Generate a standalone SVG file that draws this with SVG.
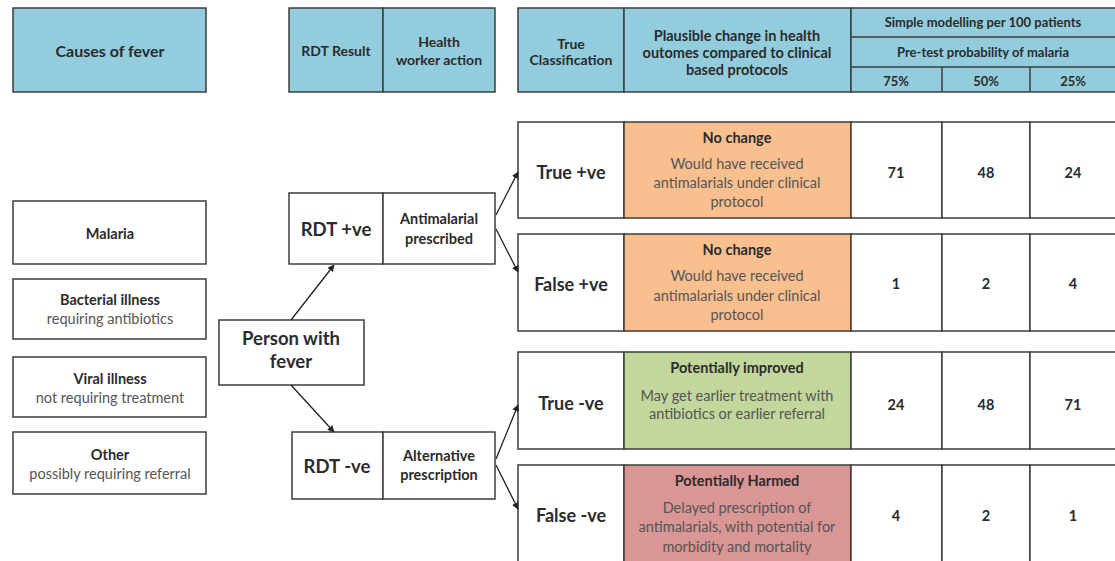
<svg xmlns="http://www.w3.org/2000/svg" width="1115" height="561" viewBox="0 0 1115 561">
<style>
text{font-family:Lato,"Open Sans",sans-serif;fill:#2b2b2b;text-anchor:middle;dominant-baseline:central}
.b{font-weight:bold}
.n{fill:#555}
.box{stroke:#3c3c3c;stroke-width:1.5;fill:#fff}
.hd{fill:#93cddd;stroke:#3c3c3c;stroke-width:1.5}
.ln{stroke:#3c3c3c;stroke-width:1.5;fill:none}
.or{fill:#f9bf8f}
.gr{fill:#c3d69b}
.rd{fill:#d99694}
.h15{font-size:16px}
.h14{font-size:14px}
.h13{font-size:14.5px}
.h12{font-size:13px}
.h17{font-size:18.5px}
.h18{font-size:18px}
.c{stroke:#222;stroke-width:1.3;fill:none;marker-end:url(#ah)}
</style>
<defs>
<marker id="ah" viewBox="0 0 10 10" refX="9" refY="5" markerWidth="7" markerHeight="7" orient="auto" markerUnits="userSpaceOnUse">
<path d="M0,0 L10,5 L0,10 z" fill="#222"/>
</marker>
</defs>
<rect width="1115" height="561" fill="#fff"/>

<g id="hdr-causes">
<rect class="hd" x="13" y="8" width="193" height="84"/>
<text class="b h15" x="110" y="50">Causes of fever</text>
</g>
<g id="hdr-rdt">
<rect class="hd" x="289" y="8" width="94" height="84"/>
<rect class="hd" x="383" y="8" width="112" height="84"/>
<text class="b h14" x="336" y="50">RDT Result</text>
<text class="b h14" x="439" y="41">Health</text>
<text class="b h14" x="439" y="59">worker action</text>
</g>
<g id="hdr-table">
<rect class="hd" x="518" y="8" width="106" height="84"/>
<rect class="hd" x="624" y="8" width="227" height="84"/>
<rect class="hd" x="851" y="8" width="266" height="84"/>
<line class="ln" x1="851" y1="37" x2="1115" y2="37"/>
<line class="ln" x1="851" y1="67" x2="1115" y2="67"/>
<line class="ln" x1="942" y1="67" x2="942" y2="92"/>
<line class="ln" x1="1030" y1="67" x2="1030" y2="92"/>
<text class="b h14" x="571" y="43">True</text>
<text class="b h14" x="571" y="59">Classification</text>
<text class="b h13" x="737" y="35">Plausible change in health</text>
<text class="b h13" x="737" y="52">outomes compared to clinical</text>
<text class="b h13" x="737" y="69">based protocols</text>
<text class="b h12" x="983" y="22">Simple modelling per 100 patients</text>
<text class="b h12" x="983" y="52">Pre-test probability of malaria</text>
<text class="b h12" x="896" y="81">75%</text>
<text class="b h12" x="986" y="81">50%</text>
<text class="b h12" x="1073" y="81">25%</text>
</g>

<g id="cause-malaria">
<rect class="box" x="13" y="201" width="193" height="63"/>
<text class="b h13" x="110" y="233">Malaria</text>
</g>
<g id="cause-bacterial">
<rect class="box" x="13" y="279" width="193" height="60"/>
<text class="b h13" x="110" y="299">Bacterial illness</text>
<text class="n h13" x="110" y="318">requiring antibiotics</text>
</g>
<g id="cause-viral">
<rect class="box" x="13" y="357" width="193" height="60"/>
<text class="b h13" x="110" y="378">Viral illness</text>
<text class="n h13" x="110" y="397">not requiring treatment</text>
</g>
<g id="cause-other">
<rect class="box" x="13" y="432" width="193" height="62"/>
<text class="b h13" x="110" y="454">Other</text>
<text class="n h13" x="110" y="473">possibly requiring referral</text>
</g>

<g id="person">
<rect class="box" x="219" y="320" width="145" height="65"/>
<text class="b h17" x="291" y="338">Person with</text>
<text class="b h17" x="291" y="361">fever</text>
</g>

<g id="rdt-pos">
<rect class="box" x="289" y="193" width="94" height="71"/>
<rect class="box" x="383" y="193" width="112" height="71"/>
<text class="b h17" x="336" y="229">RDT +ve</text>
<text class="b h13" x="439" y="218">Antimalarial</text>
<text class="b h13" x="439" y="238">prescribed</text>
</g>
<g id="rdt-neg">
<rect class="box" x="292" y="432" width="91" height="67"/>
<rect class="box" x="383" y="432" width="112" height="67"/>
<text class="b h17" x="337" y="466">RDT -ve</text>
<text class="b h13" x="439" y="455">Alternative</text>
<text class="b h13" x="439" y="474">prescription</text>
</g>

<g id="row-true-pos">
<rect class="box" x="518" y="122" width="106" height="96"/>
<rect class="box or" x="624" y="122" width="227" height="96"/>
<rect class="box" x="851" y="122" width="91" height="96"/>
<rect class="box" x="942" y="122" width="88" height="96"/>
<rect class="box" x="1030" y="122" width="87" height="96"/>
<text class="b h18" x="571" y="172">True +ve</text>
<text class="b h13" x="737" y="137">No change</text>
<text class="n h13" x="737" y="163">Would have received</text>
<text class="n h13" x="737" y="182">antimalarials under clinical</text>
<text class="n h13" x="737" y="201">protocol</text>
<text class="b h13" x="896" y="172">71</text>
<text class="b h13" x="986" y="172">48</text>
<text class="b h13" x="1073" y="172">24</text>
</g>
<g id="row-false-pos">
<rect class="box" x="518" y="234" width="106" height="97"/>
<rect class="box or" x="624" y="234" width="227" height="97"/>
<rect class="box" x="851" y="234" width="91" height="97"/>
<rect class="box" x="942" y="234" width="88" height="97"/>
<rect class="box" x="1030" y="234" width="87" height="97"/>
<text class="b h18" x="571" y="284">False +ve</text>
<text class="b h13" x="737" y="249">No change</text>
<text class="n h13" x="737" y="275">Would have received</text>
<text class="n h13" x="737" y="295">antimalarials under clinical</text>
<text class="n h13" x="737" y="314">protocol</text>
<text class="b h13" x="896" y="283">1</text>
<text class="b h13" x="986" y="283">2</text>
<text class="b h13" x="1073" y="283">4</text>
</g>
<g id="row-true-neg">
<rect class="box" x="518" y="352" width="106" height="97"/>
<rect class="box gr" x="624" y="352" width="227" height="97"/>
<rect class="box" x="851" y="352" width="91" height="97"/>
<rect class="box" x="942" y="352" width="88" height="97"/>
<rect class="box" x="1030" y="352" width="87" height="97"/>
<text class="b h18" x="571" y="403">True -ve</text>
<text class="b h13" x="737" y="367">Potentially improved</text>
<text class="n h13" x="737" y="395">May get earlier treatment with</text>
<text class="n h13" x="737" y="413">antibiotics or earlier referral</text>
<text class="b h13" x="896" y="404">24</text>
<text class="b h13" x="986" y="404">48</text>
<text class="b h13" x="1073" y="404">71</text>
</g>
<g id="row-false-neg">
<rect class="box" x="518" y="465" width="106" height="100"/>
<rect class="box rd" x="624" y="465" width="227" height="100"/>
<rect class="box" x="851" y="465" width="91" height="100"/>
<rect class="box" x="942" y="465" width="88" height="100"/>
<rect class="box" x="1030" y="465" width="87" height="100"/>
<text class="b h18" x="571" y="515">False -ve</text>
<text class="b h13" x="737" y="480">Potentially Harmed</text>
<text class="n h13" x="737" y="507">Delayed prescription of</text>
<text class="n h13" x="737" y="526">antimalarials, with potential for</text>
<text class="n h13" x="737" y="546">morbidity and mortality</text>
<text class="b h13" x="896" y="515">4</text>
<text class="b h13" x="986" y="515">2</text>
<text class="b h13" x="1073" y="515">1</text>
</g>

<g id="connectors">
<line class="c" x1="291" y1="320" x2="334" y2="265"/>
<line class="c" x1="291" y1="385" x2="334" y2="432"/>
<line class="c" x1="496" y1="215" x2="518" y2="172"/>
<line class="c" x1="496" y1="229" x2="518" y2="272"/>
<line class="c" x1="496" y1="459" x2="518" y2="405"/>
<line class="c" x1="496" y1="465" x2="518" y2="509"/>
</g>
</svg>
